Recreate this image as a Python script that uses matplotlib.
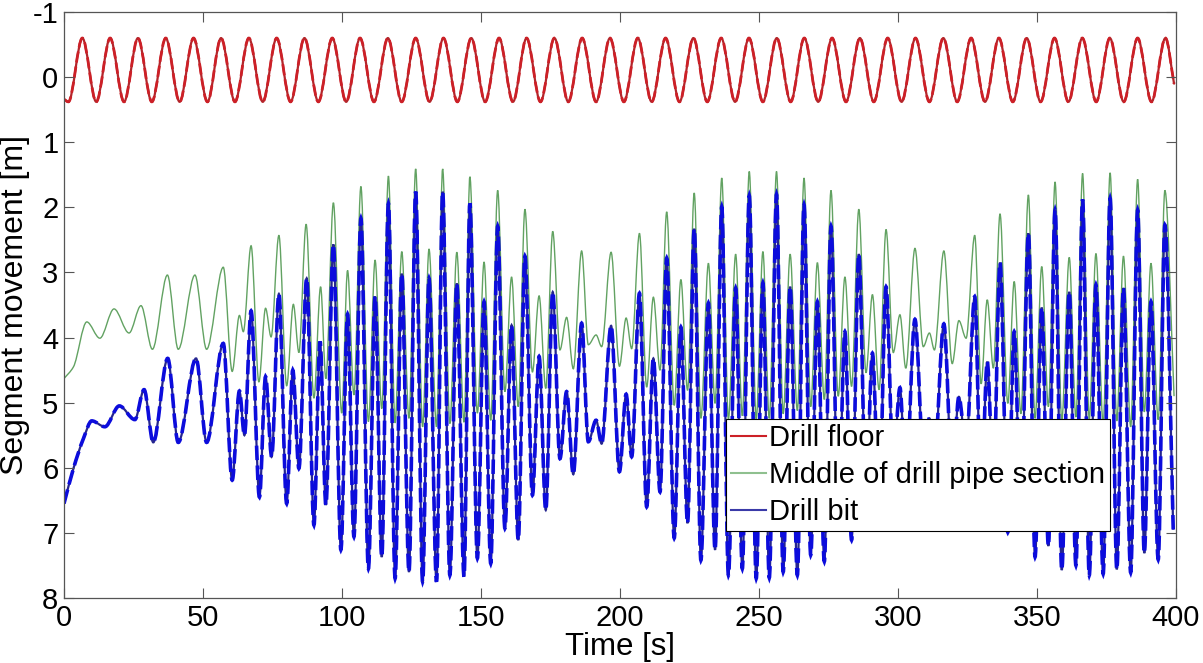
import numpy as np
import matplotlib
matplotlib.use("Agg")
import matplotlib.pyplot as plt
from matplotlib.path import Path
from matplotlib.patches import PathPatch
from matplotlib.lines import Line2D

# ---------------- data (extrema) ----------------
red_t = [0.0, 1.6, 6.6, 11.6, 16.6, 21.6, 26.6, 31.6, 36.6, 41.6, 46.6, 51.6, 56.5, 61.5,
         66.5, 71.5, 76.5, 81.5, 86.5, 91.5, 96.5, 101.5, 106.5, 111.5, 116.5, 121.5,
         126.5, 131.5, 136.5, 141.5, 146.5, 151.5, 156.5, 161.5, 166.4, 171.4, 176.4,
         181.4, 186.4, 191.4, 196.4, 201.4, 206.4, 211.4, 216.4, 221.4, 226.4, 231.4,
         236.4, 241.4, 246.4, 251.4, 256.4, 261.4, 266.3, 271.3, 276.3, 281.3, 286.3,
         291.3, 296.3, 301.3, 306.3, 311.3, 316.3, 321.3, 326.3, 331.3, 336.3, 341.3,
         346.3, 351.3, 356.3, 361.3, 366.3, 371.3, 376.2, 381.2, 386.2, 391.2, 396.2,
         399.3]
red_v = [0.34, 0.38, -0.6, 0.38, -0.6, 0.38, -0.6, 0.38, -0.6, 0.38, -0.6, 0.38, -0.6, 0.38,
         -0.6, 0.38, -0.6, 0.38, -0.6, 0.38, -0.6, 0.38, -0.6, 0.38, -0.6, 0.38,
         -0.6, 0.38, -0.6, 0.38, -0.6, 0.38, -0.6, 0.38, -0.6, 0.38, -0.6,
         0.38, -0.6, 0.38, -0.6, 0.38, -0.6, 0.38, -0.6, 0.38, -0.6, 0.38,
         -0.6, 0.38, -0.6, 0.38, -0.6, 0.38, -0.6, 0.38, -0.6, 0.38, -0.6,
         0.38, -0.6, 0.38, -0.6, 0.38, -0.6, 0.38, -0.6, 0.38, -0.6, 0.38,
         -0.6, 0.38, -0.6, 0.38, -0.6, 0.38, -0.6, 0.38, -0.6, 0.38, -0.6,
         0.1]

green_t = [0.0, 3.4, 8.2, 12.9, 18.0, 23.4, 27.7, 31.8, 37.2, 41.1, 47.1, 51.3,
           57.3, 60.5, 63.1, 64.5, 67.3, 70.1, 72.5, 74.5, 77.3, 80.1, 82.5, 84.5,
           87.1, 89.9, 92.3, 94.2, 96.9, 99.9, 102.0,
           104.3, 106.8, 109.5, 111.9, 114.3, 116.7, 119.1, 121.5, 124.1, 126.5,
           129.0, 131.3, 134.0, 136.2, 138.8, 141.3, 143.9, 146.0, 148.7, 151.1,
           153.5, 156.0, 158.6, 161.0, 163.4, 165.8, 168.5, 170.9, 173.3, 175.8,
           178.4, 180.8, 183.2, 186.2, 188.6, 191.4, 193.4, 196.8, 199.8, 202.2,
           204.2, 207.0, 209.6, 212.0, 214.4, 216.8, 219.5, 221.9, 224.3, 226.7,
           229.1, 231.8, 234.2, 236.6, 239.0, 241.6, 244.0, 246.5, 249.0, 251.4,
           253.7, 256.3, 258.7, 261.2, 263.8, 266.2, 268.6, 271.0, 273.5, 275.9,
           278.5, 280.9, 283.3, 285.9, 288.5, 290.8, 293.2, 295.7, 298.3, 300.7,
           302.8, 306.1, 309.1, 311.3, 313.1, 316.5, 319.5, 321.9, 324.5, 327.6,
           329.9, 332.1, 334.3, 336.7, 339.5, 341.8, 344.2, 346.9, 349.3, 351.7,
           354.1, 356.5, 358.9, 361.6, 364.0, 366.4, 368.8, 371.2, 373.8, 376.3,
           378.7, 381.1, 383.7, 386.2, 388.6, 391.0, 393.6, 396.0, 399.3]
green_v = [4.63, 4.45, 3.76, 4.01, 3.56, 3.93, 3.51, 4.18, 3.04, 4.18, 3.04, 4.18,
           2.92, 4.52, 3.66, 3.91, 2.59, 4.68, 3.55, 3.99, 2.43, 4.74, 3.49, 4.23,
           2.26, 4.93, 3.22, 4.63, 1.93, 5.16, 2.97,
           4.88, 1.68, 5.29, 2.81, 5.09, 1.52, 5.31, 2.68, 5.24, 1.41,
           5.37, 2.64, 5.37, 1.41, 5.32, 2.69, 5.30, 1.53, 5.16, 2.84,
           5.27, 1.74, 4.83, 3.07, 5.06, 2.03, 4.53, 3.36, 4.78, 2.37,
           4.19, 3.69, 4.48, 2.67, 4.11, 3.96, 4.14, 2.69, 4.44, 3.70,
           4.17, 2.40, 4.76, 3.38, 4.50, 2.07, 5.04, 3.11, 4.81, 1.78,
           5.24, 2.86, 5.01, 1.55, 5.25, 2.72, 5.20, 1.45, 5.25, 2.68,
           5.24, 1.45, 5.17, 2.72, 5.12, 1.55, 5.06, 2.85, 4.95, 1.74,
           4.90, 3.07, 4.75, 2.03, 4.54, 3.34, 4.80, 2.34, 4.23, 3.65,
           4.47, 2.63, 4.14, 3.93, 4.19, 2.67, 4.40, 3.74, 4.01, 2.43,
           4.71, 3.42, 4.47, 2.10, 5.01, 3.14, 5.17, 1.81, 5.24, 2.91,
           5.06, 1.61, 5.27, 2.77, 5.22, 1.48, 5.25, 2.71, 5.32, 1.47,
           5.28, 2.75, 5.37, 1.57, 5.14, 2.86, 5.26, 1.74, 4.90]

blue_t = [0.0, 3.4, 7.0, 10.0, 14.7, 19.9, 25.5, 28.8, 32.1, 37.3, 41.1, 47.5, 51.3,
          57.3, 60.5, 63.1, 64.9, 67.3, 70.3, 72.5, 74.7, 77.3, 80.1, 82.3, 84.5,
          87.3, 89.9, 92.1, 94.2, 96.9, 99.6, 102.0,
          104.3, 106.8, 109.5, 111.9, 114.3, 116.7, 119.1, 121.5, 124.1, 126.5,
          129.0, 131.3, 134.0, 136.2, 138.8, 141.3, 143.9, 146.0, 148.7, 151.1,
          153.5, 156.0, 158.6, 161.0, 163.4, 165.8, 168.5, 170.9, 173.3, 175.8,
          178.4, 180.8, 183.2, 186.2, 188.6, 191.4, 193.4, 196.8, 199.8, 202.2,
          204.2, 207.0, 209.6, 212.0, 214.4, 216.8, 219.5, 221.9, 224.3, 226.7,
          229.1, 231.8, 234.2, 236.6, 239.0, 241.6, 244.0, 246.5, 249.0, 251.4,
          253.7, 256.3, 258.7, 261.2, 263.8, 266.2, 268.6, 271.0, 273.5, 275.9,
          278.5, 280.9, 283.3, 285.9, 288.5, 290.8, 293.2, 295.7, 298.3, 300.7,
          302.8, 306.1, 309.1, 311.3, 313.1, 316.5, 319.5, 321.9, 324.5, 327.6,
          329.9, 332.1, 334.3, 336.7, 339.5, 341.8, 344.2, 346.9, 349.3, 351.7,
          354.1, 356.5, 358.9, 361.6, 364.0, 366.4, 368.8, 371.2, 373.8, 376.3,
          378.7, 381.1, 383.7, 386.2, 388.6, 391.0, 393.6, 396.0, 399.0]
blue_v = [6.55, 6.01, 5.55, 5.28, 5.37, 5.05, 5.26, 4.80, 5.61, 4.32, 5.61, 4.32, 5.61,
          4.09, 6.19, 4.82, 5.50, 3.59, 6.45, 4.60, 5.83, 3.33, 6.55, 4.50, 6.01,
          3.09, 6.88, 4.06, 6.57, 2.57, 7.26, 3.64,
          7.06, 2.17, 7.55, 3.37, 7.37, 1.94, 7.70, 3.02, 7.60, 1.76,
          7.75, 3.09, 7.75, 1.76, 7.65, 3.17, 7.67, 1.94, 7.39, 3.45,
          7.47, 2.29, 6.93, 3.81, 7.11, 2.75, 6.42, 4.29, 6.65, 3.30,
          5.86, 4.83, 6.10, 3.78, 5.60, 5.27, 5.63, 3.82, 6.06, 4.87,
          5.83, 3.32, 6.60, 4.32, 6.37, 2.78, 7.08, 3.84, 6.85, 2.33,
          7.42, 3.47, 7.26, 1.99, 7.65, 3.24, 7.55, 1.82, 7.70, 3.16,
          7.69, 1.80, 7.60, 3.22, 7.65, 1.96, 7.34, 3.45, 7.44, 2.29,
          6.85, 3.91, 7.11, 2.72, 6.40, 4.24, 6.55, 3.22, 5.95, 4.77,
          6.20, 3.72, 5.75, 5.24, 5.80, 3.79, 6.10, 4.91, 5.70, 3.37,
          6.45, 4.37, 6.20, 2.85, 6.99, 3.91, 6.85, 2.40, 7.37, 3.54,
          7.20, 2.04, 7.57, 3.30, 7.50, 1.88, 7.65, 3.19, 7.63, 1.86,
          7.56, 3.24, 7.61, 2.04, 7.31, 3.45, 7.41, 2.27, 6.95]

labels = ["Drill floor", "Middle of drill pipe section", "Drill bit"]
x_ticks = [0, 50, 100, 150, 200, 250, 300, 350, 400]
y_ticks = [-1, 0, 1, 2, 3, 4, 5, 6, 7, 8]


# ---------------- smooth curve through the read points ----------------
def smooth_path(t, v):
    """Monotone cubic (Fritsch-Carlson) Bezier path through the given points."""
    t = np.asarray(t, float)
    v = np.asarray(v, float)
    h = np.diff(t)
    d = np.diff(v) / h
    n = len(t)
    m = np.zeros(n)
    m[0] = d[0]
    m[-1] = d[-1]
    for k in range(1, n - 1):
        if d[k - 1] * d[k] <= 0:
            m[k] = 0.0
        else:
            w1 = 2 * h[k] + h[k - 1]
            w2 = h[k] + 2 * h[k - 1]
            m[k] = (w1 + w2) / (w1 / d[k - 1] + w2 / d[k])
    verts = [(t[0], v[0])]
    codes = [Path.MOVETO]
    for k in range(n - 1):
        hk = h[k] / 3.0
        verts += [(t[k] + hk, v[k] + m[k] * hk),
                  (t[k + 1] - hk, v[k + 1] - m[k + 1] * hk),
                  (t[k + 1], v[k + 1])]
        codes += [Path.CURVE4] * 3
    return Path(verts, codes)


plt.rcParams['font.family'] = ['Liberation Sans', 'DejaVu Sans']

fig = plt.figure(figsize=(12.03, 6.63), dpi=100)
ax = fig.add_axes([64 / 1203, 1 - 598 / 663, (1176 - 64) / 1203, (598 - 12) / 663])

red_c = '#cc2027'
green_c = '#62a262'
blue_c = '#0c0cdc'

ax.add_patch(PathPatch(smooth_path(red_t, red_v), fill=False, edgecolor='#b3262b',
                       lw=1.6, capstyle='round', joinstyle='round'))
ax.add_patch(PathPatch(smooth_path(red_t, red_v), fill=False, edgecolor=red_c,
                       lw=2.0, linestyle=(0, (4, 1.5))))
ax.add_patch(PathPatch(smooth_path(green_t, green_v), fill=False, edgecolor=green_c,
                       lw=1.0))
ax.add_patch(PathPatch(smooth_path(blue_t, blue_v), fill=False, edgecolor='#26268f',
                       lw=1.6))
ax.add_patch(PathPatch(smooth_path(blue_t, blue_v), fill=False, edgecolor=blue_c,
                       lw=2.6, linestyle=(0, (4, 1.5))))

ax.set_xlim(0, 400)
ax.set_ylim(8, -1)
ax.set_xticks(x_ticks)
ax.set_yticks(y_ticks)
ax.set_xticklabels([str(v) for v in x_ticks])
ax.set_yticklabels([str(v) for v in y_ticks])
ax.tick_params(direction='in', top=True, right=True, length=7, width=0.8,
               labelsize=21, color='#555555', pad=4)
for s in ax.spines.values():
    s.set_color('#555555')
    s.set_linewidth(0.9)

ax.set_xlabel("Time [s]", fontsize=22.5, labelpad=0)
ax.set_ylabel("Segment movement [m]", fontsize=23, labelpad=2)

handles = [Line2D([], [], color=red_c, lw=1.5),
           Line2D([], [], color='#8fc08f', lw=1.5),
           Line2D([], [], color='#3a3aa8', lw=1.5)]
leg = ax.legend(handles, labels, loc='upper left', bbox_to_anchor=(0.595, 0.3055),
                fontsize=21, frameon=True, fancybox=False, framealpha=1,
                edgecolor='black', handlelength=1.2, handletextpad=0.1,
                labelspacing=0.3, borderpad=0.18, borderaxespad=0)
leg.get_frame().set_linewidth(0.8)

fig.savefig("out.png", dpi=100)
